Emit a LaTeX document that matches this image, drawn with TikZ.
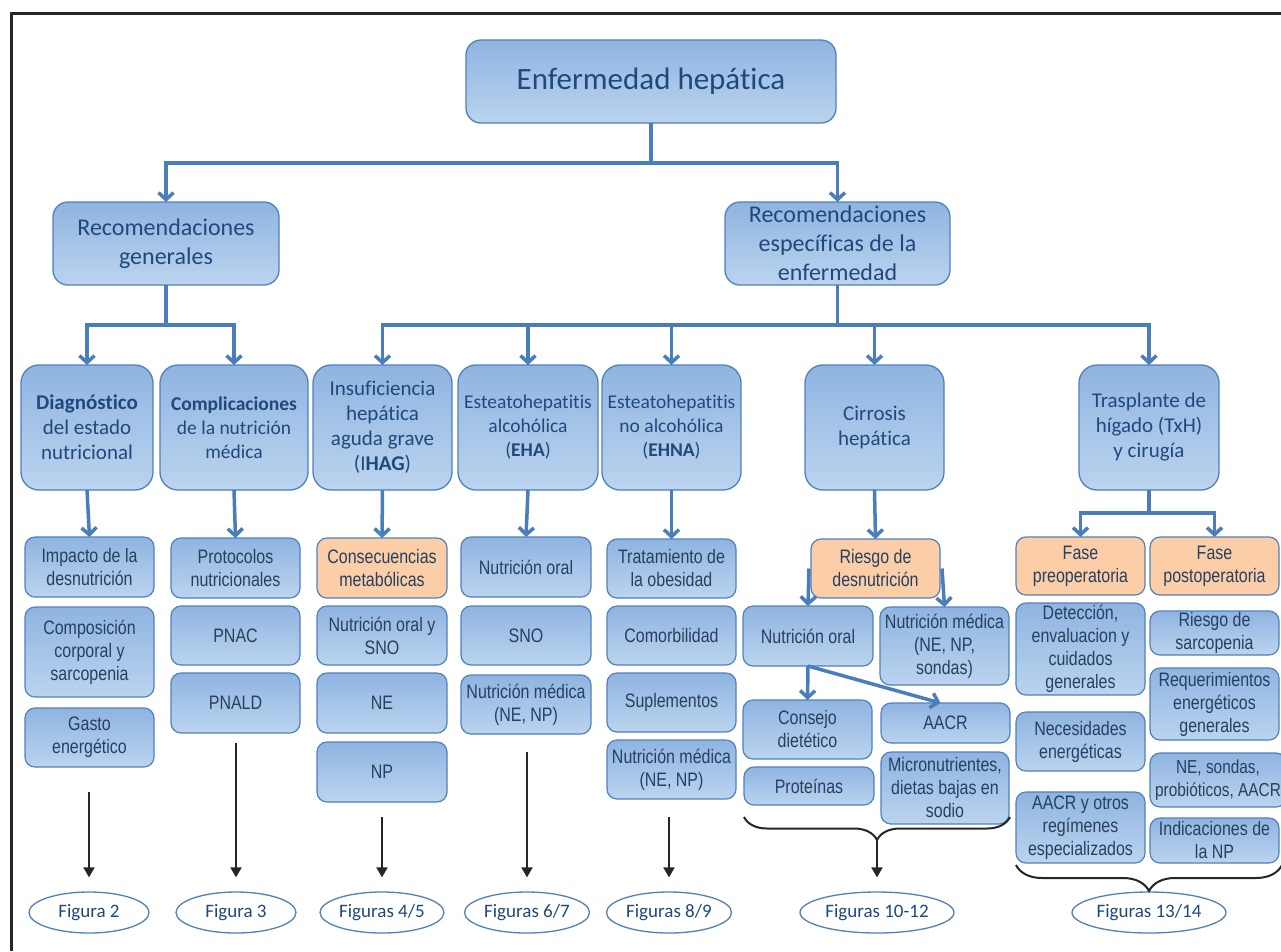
\documentclass[tikz,border=0pt]{standalone}
\usepackage{fontspec}
\usetikzlibrary{shapes.geometric,arrows.meta,decorations.pathreplacing}
\newfontfamily\calibri[Ligatures=NoCommon]{Carlito}
\newfontfamily\narrowf[FakeStretch=0.82]{Liberation Sans}
\definecolor{bxline}{RGB}{79,129,189}
\definecolor{bxtop}{RGB}{143,180,225}
\definecolor{bxbot}{RGB}{187,212,238}
\definecolor{orng}{RGB}{251,206,168}
\definecolor{lnblue}{RGB}{74,125,187}
\definecolor{txtblue}{RGB}{31,73,125}
\definecolor{txtsm}{RGB}{38,64,98}
\tikzset{
 bigbox/.style={draw=bxline,line width=1.3pt,rounded corners=18pt,top color=bxtop,bottom color=bxbot,inner sep=0pt,outer sep=0pt},
 recbox/.style={bigbox,rounded corners=15pt},
 smbox/.style={draw=bxline,line width=1.2pt,rounded corners=10pt,top color=bxtop,bottom color=bxbot,inner sep=0pt,outer sep=0pt},
 orbox/.style={draw=bxline,line width=1.2pt,rounded corners=10pt,fill=orng,inner sep=0pt,outer sep=0pt},
 tTop/.style={font=\calibri\fontsize{31}{36}\selectfont,text=txtblue},
 tRec/.style={font=\calibri\fontsize{24}{29}\selectfont,text=txtblue},
 tB/.style={font=\calibri\fontsize{21}{25}\selectfont,text=txtblue},
 tBs/.style={font=\calibri\fontsize{19.5}{24}\selectfont,text=txtblue},
 tS/.style={font=\narrowf\fontsize{19.5}{23}\selectfont,text=txtsm},
 tSs/.style={font=\narrowf\fontsize{18.8}{23}\selectfont,text=txtsm},
 fig/.style={ellipse,draw=bxline,line width=1.3pt,fill=white,inner sep=0pt,minimum height=41pt,font=\calibri\fontsize{19}{22}\selectfont,text=txtblue},
 conn/.style={draw=lnblue,line width=3.5pt,-{Straight Barb[length=7pt,width=15pt]}},
 plain/.style={draw=lnblue,line width=3.5pt},
 blk/.style={draw=black!85,line width=2pt,-{Triangle[length=10pt,width=11pt]}},
 brc/.style={draw=black!85,line width=2pt,decorate,decoration={brace,mirror,amplitude=#1}},
}
\newcommand\bx[8]{\node[#6,minimum width={(#4-#2)*1pt},minimum height={(#5-#3)*1pt}] (#1) at ({(#2+#4)/2},{(#3+#5)/2}) {};
 \node[#7,align=center,inner sep=0pt] at (#1.center) {#8};}
\begin{document}
\begin{tikzpicture}[x=1pt,y=-1pt]
\fill[white] (0,0) rectangle (1281,951);
\useasboundingbox (0,0) rectangle (1281,951);
% frame
\draw[black!85,line width=3pt] (11,951) -- (11,13) -- (1281,13);

% top levels
\bx{top}{466}{40}{836}{123}{recbox}{tTop}{Enfermedad hepática}
\bx{recgen}{53}{202}{279}{285}{recbox}{tRec}{Recomendaciones\\generales}
\bx{recesp}{725}{202}{950}{285}{recbox}{tRec}{Recomendaciones\\específicas de la\\enfermedad}

% row 2
\bx{diag}{21}{365}{153}{490}{bigbox}{tB}{\textbf{Diagnóstico}\\del estado\\nutricional}
\bx{comp}{160}{365}{308}{490}{bigbox}{tBs}{\textbf{Complicaciones}\\de la nutrición\\médica}
\bx{ihag}{313}{365}{452}{490}{bigbox}{tB}{Insuficiencia\\hepática\\aguda grave\\(I\textbf{HAG})}
\bx{eha}{458}{365}{598}{490}{bigbox}{tBs}{Esteatohepatitis\\alcohólica\\(\textbf{EHA})}
\bx{ehna}{602}{365}{741}{490}{bigbox}{tBs}{Esteatohepatitis\\no alcohólica\\(\textbf{EHNA})}
\bx{cirr}{805}{365}{944}{490}{bigbox}{tB}{Cirrosis\\hepática}
\bx{tras}{1079}{365}{1219}{490}{bigbox}{tB}{Trasplante de\\hígado (TxH)\\y cirugía}

% column 1
\bx{imp}{25}{537}{154}{597}{smbox}{tS}{Impacto de la\\desnutrición}
\bx{compo}{25}{607}{154}{697}{smbox}{tS}{Composición\\corporal y\\sarcopenia}
\bx{gasto}{25}{708}{154}{767}{smbox}{tS}{Gasto\\energético}
% column 2
\bx{prot}{171}{538}{300}{598}{smbox}{tS}{Protocolos\\nutricionales}
\bx{pnac}{171}{606}{300}{665}{smbox}{tS}{PNAC}
\bx{pnald}{171}{673}{300}{733}{smbox}{tS}{PNALD}
% column 3
\bx{consec}{317}{538}{447}{598}{orbox}{tS}{Consecuencias\\metabólicas}
\bx{nosno}{317}{606}{447}{665}{smbox}{tS}{Nutrición oral y\\SNO}
\bx{ne}{317}{673}{447}{733}{smbox}{tS}{NE}
\bx{np}{317}{742}{447}{802}{smbox}{tS}{NP}
% column 4
\bx{ehano}{461}{537}{591}{597}{smbox}{tS}{Nutrición oral}
\bx{sno}{461}{606}{591}{665}{smbox}{tS}{SNO}
\bx{ehanm}{461}{675}{591}{734}{smbox}{tS}{Nutrición médica\\(NE, NP)}
% column 5
\bx{trat}{607}{539}{736}{598}{smbox}{tS}{Tratamiento de\\la obesidad}
\bx{comor}{607}{606}{736}{665}{smbox}{tS}{Comorbilidad}
\bx{supl}{607}{673}{736}{732}{smbox}{tS}{Suplementos}
\bx{ehnanm}{607}{740}{736}{799}{smbox}{tS}{Nutrición médica\\(NE, NP)}
% cirrosis
\bx{riesgo}{811}{539}{940}{598}{orbox}{tS}{Riesgo de\\desnutrición}
\bx{cno}{743}{606}{873}{666}{smbox}{tS}{Nutrición oral}
\bx{cnm}{880}{607}{1009}{685}{smbox}{tS}{Nutrición médica\\(NE, NP,\\sondas)}
\bx{consejo}{743}{700}{872}{759}{smbox}{tS}{Consejo\\dietético}
\bx{prote}{744}{767}{874}{805}{smbox}{tS}{Proteínas}
\bx{aacr}{881}{703}{1010}{743}{smbox}{tS}{AACR}
\bx{micro}{881}{752}{1009}{824}{smbox}{tS}{Micronutrientes,\\dietas bajas en\\sodio}
% trasplante
\bx{pre}{1016}{537}{1145}{595}{orbox}{tS}{Fase\\preoperatoria}
\bx{post}{1150}{537}{1279}{595}{orbox}{tS}{Fase\\postoperatoria}
\bx{detec}{1016}{603}{1145}{695}{smbox}{tS}{Detección,\\envaluacion y\\cuidados\\generales}
\bx{sarc}{1150}{611}{1279}{655}{smbox}{tS}{Riesgo de\\sarcopenia}
\bx{reqe}{1150}{668}{1279}{740}{smbox}{tS}{Requerimientos\\energéticos\\generales}
\bx{neces}{1016}{712}{1145}{771}{smbox}{tS}{Necesidades\\energéticas}
\bx{nesond}{1150}{753}{1286}{807}{smbox}{tSs}{NE, sondas,\\probióticos, AACR}
\bx{aacrot}{1016}{792}{1145}{863}{smbox}{tS}{AACR y otros\\regímenes\\especializados}
\bx{indic}{1150}{818}{1279}{863}{smbox}{tS}{Indicaciones de\\la NP}

% blue tree connectors
\draw[plain] (top.south) -- ++(0,40) coordinate (j1);
\draw[conn] (j1) -| (recgen.north);
\draw[conn] (j1) -| (recesp.north);
\draw[plain] (recgen.south) -- ++(0,40) coordinate (j2);
\draw[conn] (j2) -| (diag.north);
\draw[conn] (j2) -| (comp.north);
\draw[plain] (recesp.south) -- ++(0,40) coordinate (j3);
\draw[conn] (j3) -| (ihag.north);
\draw[conn] (j3) -| (eha.north);
\draw[conn] (j3) -| (ehna.north);
\draw[conn] (j3) -| (cirr.north);
\draw[conn] (j3) -| (tras.north);
\draw[conn] (diag.south) -- (imp.north);
\draw[conn] (comp.south) -- (prot.north);
\draw[conn] (ihag.south) -- (consec.north);
\draw[conn] (eha.south) -- (ehano.north);
\draw[conn] (ehna.south) -- (trat.north);
\draw[conn] (cirr.south) -- (riesgo.north);
\draw[plain] (tras.south) -- ++(0,23) coordinate (j4);
\draw[conn] (j4) -| (pre.north);
\draw[conn] (j4) -| (post.north);
\draw[conn] ([xshift=-2pt]riesgo.west) -- (cno.north);
\draw[conn] ([xshift=2pt]riesgo.east) -- (cnm.north);
\draw[conn] (cno.south) -- (consejo.north);
\draw[conn] (cno.south) -- ([xshift=-5pt]aacr.north);

% figure ellipses
\node[fig,minimum width=120pt] (f2) at (89,912.5) {Figura 2};
\node[fig,minimum width=120pt] (f3) at (236,912.5) {Figura 3};
\node[fig,minimum width=124pt] (f45) at (382,912.5) {Figuras 4/5};
\node[fig,minimum width=125pt] (f67) at (527,912.5) {Figuras 6/7};
\node[fig,minimum width=125pt] (f89) at (669,912.5) {Figuras 8/9};
\node[fig,minimum width=154pt] (f1012) at (877,912.5) {Figuras 10-12};
\node[fig,minimum width=154pt] (f1314) at (1149,912.5) {Figuras 13/14};

% black arrows
\coordinate (a2) at (89,792);
\coordinate (a3) at (236,743);
\coordinate (a45) at (382,817);
\coordinate (a67) at (527,752);
\coordinate (a89) at (669,817);
\draw[blk] (a2) -- ([yshift=14pt]f2.north);
\draw[blk] (a3) -- ([yshift=14pt]f3.north);
\draw[blk] (a45) -- ([yshift=14pt]f45.north);
\draw[blk] (a67) -- ([yshift=14pt]f67.north);
\draw[blk] (a89) -- ([yshift=14pt]f89.north);

% braces
\draw[brc=23pt] (744,817) -- (1010,817);
\coordinate (bt1) at (877,840);
\draw[blk] (bt1) -- ([yshift=14pt]f1012.north);
\draw[brc=26pt] (1016,865) -- (1282,865);
\end{tikzpicture}
\end{document}
